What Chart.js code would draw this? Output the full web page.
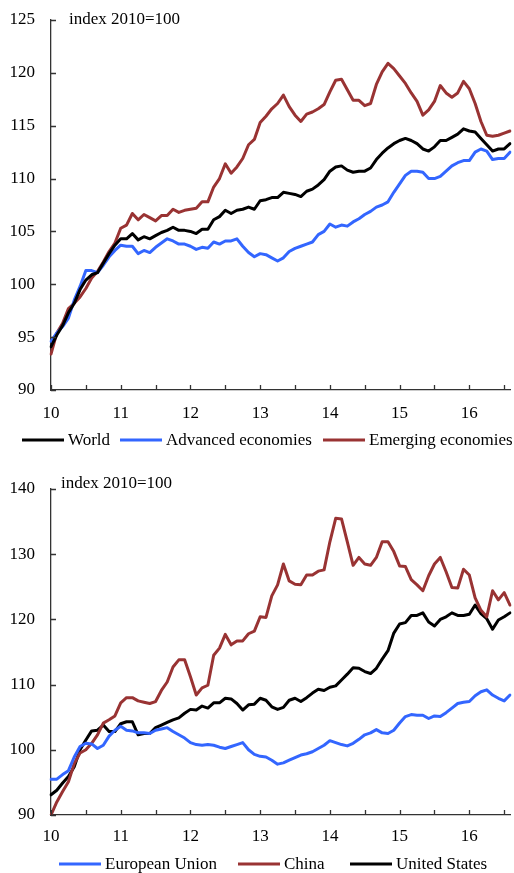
<!DOCTYPE html>
<html><head><meta charset="utf-8">
<script src="https://cdn.jsdelivr.net/npm/chart.js@4"></script>
<style>
html,body{margin:0;padding:0;background:#fff;overflow:hidden;width:514px;height:873px;position:relative;}
#c1{position:absolute;left:0;top:0;}
#c2{position:absolute;left:0;top:460px;}
</style></head><body>
<canvas id="c1" width="514" height="458"></canvas>
<canvas id="c2" width="514" height="413"></canvas>
<script>
// ---- categories: monthly, Jan 2010 .. Aug 2016 ----
const months = [];
for (let y = 2010; y <= 2016; y++) for (let m = 1; m <= 12; m++) if (months.length < 80) months.push(y + '-' + m);
const yearLabels = ['10','11','12','13','14','15','16'];
const unitLabel = 'index 2010=100';

// ---- panel 1 ----
const world = [94.1,95.2,96.1,97.3,98.2,99.5,100.4,100.9,101.1,102.0,102.9,103.7,
 104.3,104.3,104.8,104.2,104.5,104.3,104.6,104.9,105.1,105.4,105.1,105.1,
 105.0,104.8,105.2,105.2,106.1,106.4,107.0,106.7,107.0,107.1,107.3,107.1,
 107.9,108.0,108.2,108.2,108.7,108.6,108.5,108.3,108.8,109.0,109.4,109.9,
 110.7,111.1,111.2,110.8,110.6,110.7,110.7,111.0,111.8,112.4,112.9,113.3,
 113.6,113.8,113.6,113.3,112.8,112.6,113.0,113.6,113.6,113.9,114.2,114.7,
 114.5,114.4,113.8,113.2,112.6,112.8,112.8,113.3];
const advanced = [94.6,95.4,96.0,96.8,98.5,99.8,101.3,101.3,101.1,101.8,102.6,103.2,
 103.7,103.6,103.6,102.9,103.2,103.0,103.5,103.9,104.3,104.1,103.8,103.8,
 103.6,103.3,103.5,103.4,104.0,103.8,104.1,104.1,104.3,103.6,103.0,102.6,
 102.9,102.8,102.5,102.2,102.5,103.1,103.4,103.6,103.8,104.0,104.7,105.0,
 105.7,105.4,105.6,105.5,105.9,106.2,106.6,106.9,107.3,107.5,107.8,108.7,
 109.5,110.3,110.7,110.7,110.6,110.0,110.0,110.2,110.7,111.2,111.5,111.7,
 111.7,112.5,112.8,112.6,111.8,111.9,111.9,112.5];
const emerging = [93.4,95.4,96.3,97.7,98.2,98.8,99.6,100.6,101.2,102.1,103.1,103.9,
 105.3,105.6,106.7,106.1,106.6,106.3,106.0,106.5,106.5,107.1,106.8,107.0,
 107.1,107.2,107.8,107.8,109.2,110.0,111.4,110.5,111.1,111.9,113.2,113.7,
 115.3,115.9,116.6,117.1,117.9,116.8,116.0,115.4,116.1,116.3,116.6,117.0,
 118.2,119.3,119.4,118.4,117.4,117.4,116.9,117.1,118.9,120.1,120.9,120.4,
 119.7,119.0,118.1,117.3,116.0,116.5,117.3,118.8,118.1,117.7,118.1,119.2,
 118.5,117.1,115.4,114.1,114.0,114.1,114.3,114.5];

// ---- panel 2 ----
const eu = [95.5,95.5,96.2,96.8,98.9,100.5,101.0,100.9,100.2,100.7,102.1,103.0,
 103.6,103.0,102.9,102.6,102.6,102.5,103.0,103.2,103.4,102.8,102.3,101.8,
 101.1,100.8,100.7,100.8,100.7,100.4,100.2,100.5,100.8,101.1,100.0,99.3,
 99.0,98.9,98.4,97.8,98.0,98.4,98.8,99.2,99.4,99.7,100.2,100.7,
 101.4,101.1,100.8,100.6,101.0,101.6,102.3,102.6,103.1,102.6,102.5,103.0,
 104.1,105.1,105.4,105.3,105.3,104.8,105.2,105.1,105.7,106.4,107.1,107.3,
 107.4,108.3,108.9,109.2,108.4,107.9,107.5,108.4];
const china = [90.0,92.0,93.6,95.1,97.9,99.5,100.0,101.0,102.3,104.1,104.6,105.2,
 107.2,108.0,108.0,107.5,107.3,107.1,107.4,109.1,110.4,112.7,113.8,113.8,
 111.2,108.4,109.5,109.9,114.5,115.6,117.7,116.1,116.7,116.7,117.8,118.2,
 120.4,120.3,123.6,125.3,128.5,125.9,125.4,125.3,126.8,126.8,127.4,127.6,
 131.9,135.5,135.4,131.9,128.3,129.5,128.5,128.3,129.5,131.9,131.9,130.4,
 128.2,128.1,126.1,125.3,124.4,126.7,128.5,129.5,127.3,124.9,124.8,127.7,
 126.8,123.3,121.4,120.4,124.4,123.0,124.1,122.2];
const us = [93.1,93.8,94.9,95.9,97.4,100.0,101.5,102.9,103.0,103.8,102.8,102.8,
 104.0,104.3,104.3,102.3,102.5,102.5,103.4,103.8,104.2,104.6,104.9,105.6,
 106.2,106.1,106.7,106.4,107.2,107.2,107.9,107.8,107.1,106.1,106.9,107.0,
 107.9,107.6,106.6,106.2,106.5,107.6,107.9,107.4,108.0,108.7,109.3,109.1,
 109.6,109.8,110.7,111.6,112.6,112.5,112.0,111.7,112.5,113.9,115.2,117.9,
 119.3,119.5,120.6,120.6,121.0,119.6,119.0,120.0,120.4,121.0,120.6,120.6,
 120.8,122.2,120.9,120.1,118.5,119.9,120.4,121.0];

const BLACK = '#000000', BLUE = '#3366FF', RED = '#993333', AXIS = '#333333';
const FONT = {family: '"Liberation Serif", "Times New Roman", serif', size: 17};
const FONT_CSS = FONT.size + 'px ' + FONT.family;

// inward tick marks, unit label and line legend
const axisDecor = {
  id: 'axisDecor',
  afterDraw(chart, args, opts) {
    const {ctx, chartArea: a, scales: {x, y}} = chart;
    ctx.save();
    ctx.strokeStyle = AXIS; ctx.lineWidth = 1.3;
    ctx.beginPath();
    y.ticks.forEach(t => {
      const py = Math.round(y.getPixelForValue(t.value)) + 0.5;
      ctx.moveTo(a.left, py); ctx.lineTo(a.left + 5, py);
    });
    months.forEach((m, i) => {
      if (i % 6 === 0) {
        const px = Math.round(x.getPixelForValue(i)) + 0.5;
        ctx.moveTo(px, a.bottom); ctx.lineTo(px, a.bottom - 5);
      }
    });
    ctx.stroke();
    ctx.fillStyle = '#000';
    ctx.font = FONT_CSS;
    ctx.textBaseline = 'middle'; ctx.textAlign = 'left';
    ctx.fillText(unitLabel, a.left + opts.dx, a.top + opts.dy);
    // legend
    const ly = a.bottom + opts.legendDy;
    chart.data.datasets.forEach((ds, i) => {
      const x0 = opts.legendX[i];
      ctx.strokeStyle = ds.borderColor; ctx.lineWidth = 3; ctx.lineCap = 'butt';
      ctx.beginPath(); ctx.moveTo(x0, ly); ctx.lineTo(x0 + 42, ly); ctx.stroke();
      ctx.fillStyle = '#000';
      ctx.fillText(ds.label, x0 + 46, ly + 1);
    });
    ctx.restore();
  }
};

function makeChart(id, datasets, o) {
  return new Chart(document.getElementById(id), {
    type: 'line',
    data: {
      labels: months,
      datasets: datasets.map(d => ({
        label: d.label, data: d.data, borderColor: d.color, backgroundColor: d.color,
        borderWidth: 3, pointRadius: 0, tension: 0, fill: false,
        borderJoinStyle: 'round', borderCapStyle: 'round'
      }))
    },
    options: {
      responsive: false, animation: false, devicePixelRatio: 1,
      layout: {padding: o.padding},
      scales: {
        x: {
          type: 'category', offset: false,
          grid: {display: false, drawTicks: false},
          border: {display: true, color: AXIS, width: 1.3},
          ticks: {autoSkip: false, maxRotation: 0, minRotation: 0, padding: o.xPad, color: '#000', font: FONT,
            callback: (v, i) => (i % 12 === 0 ? yearLabels[i / 12] : '')},
          afterFit: s => { s.height = o.xh; s.paddingLeft = 0; s.paddingRight = 0; }
        },
        y: {
          min: o.min, max: o.max,
          grid: {display: false, drawTicks: false},
          border: {display: true, color: AXIS, width: 1.3},
          ticks: {stepSize: o.step, padding: 16, color: '#000', font: FONT},
          afterFit: s => { s.width = o.yw; s.paddingTop = 0; s.paddingBottom = 0; }
        }
      },
      plugins: {
        tooltip: {enabled: false},
        legend: {display: false},
        axisDecor: {dx: o.dx, dy: o.dy, legendDy: o.legendDy, legendX: o.legendX}
      }
    },
    plugins: [axisDecor]
  });
}

makeChart('c1', [
  {label: 'World', data: world, color: BLACK},
  {label: 'Advanced economies', data: advanced, color: BLUE},
  {label: 'Emerging economies', data: emerging, color: RED}
], {padding: {top: 20, left: 0, right: 4, bottom: 33}, yw: 51, xh: 35, xPad: 13,
    min: 90, max: 125, step: 5, dx: 18, dy: 0, legendDy: 50, legendX: [22, 120, 323]});

makeChart('c2', [
  {label: 'European Union', data: eu, color: BLUE},
  {label: 'China', data: china, color: RED},
  {label: 'United States', data: us, color: BLACK}
], {padding: {top: 29, left: 0, right: 4, bottom: 23}, yw: 51, xh: 35, xPad: 11,
    min: 90, max: 140, step: 10, dx: 10, dy: -5, legendDy: 49, legendX: [59, 238, 350]});
</script>
</body></html>
